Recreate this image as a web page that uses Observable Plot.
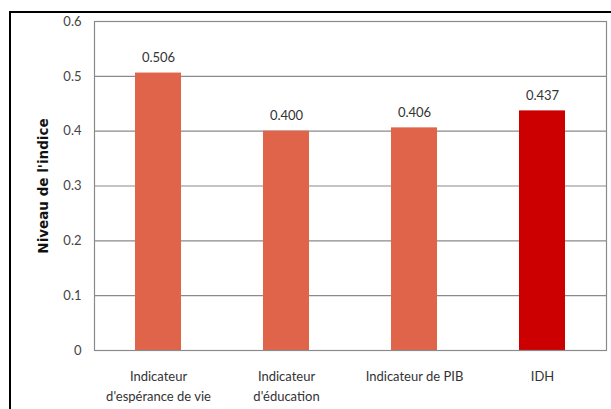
<!DOCTYPE html>
<html><head><meta charset="utf-8">
<script src="https://cdn.jsdelivr.net/npm/d3@7"></script>
<script src="https://cdn.jsdelivr.net/npm/@observablehq/plot@0.6"></script>
<style>
body{margin:0;background:#fff;}
#wrap{position:relative;width:611px;height:409px;overflow:hidden;}
#border{position:absolute;left:9px;top:11px;width:700px;height:500px;border:2px solid #000;}
#chart{position:absolute;left:0;top:0;}
</style></head>
<body><div id="wrap"><div id="border"></div><div id="chart"></div></div>
<script>
const categories = ["Indicateur\nd'espérance de vie", "Indicateur\nd'éducation", "Indicateur de PIB", "IDH"];
const values = [0.506, 0.400, 0.406, 0.437];
const valueLabels = ["0.506", "0.400", "0.406", "0.437"];
const yTicks = [0, 0.1, 0.2, 0.3, 0.4, 0.5, 0.6];
const yTickLabels = ["0", "0.1", "0.2", "0.3", "0.4", "0.5", "0.6"];
const yLabel = "Niveau de l'indice";
const colors = ["#E0644A", "#E0644A", "#E0644A", "#CC0000"];

const data = categories.map((c, i) => ({cat: c, value: values[i], label: valueLabels[i], color: colors[i]}));

const chart = Plot.plot({
  width: 611,
  height: 409,
  marginLeft: 94,
  marginRight: 5,
  marginTop: 21,
  marginBottom: 59,
  style: {fontFamily: "Lato, 'Open Sans', sans-serif", fontSize: "13px", color: "#333", background: "transparent"},
  x: {domain: categories, paddingInner: 0.64, paddingOuter: 0.32, label: null},
  y: {domain: [0, 0.6], label: null},
  marks: [
    Plot.gridY(yTicks, {stroke: "#8a8a8a", strokeOpacity: 1, strokeWidth: 1.2}),
    Plot.barY(data, {x: "cat", y: "value", fill: "color"}),
    Plot.frame({stroke: "#8a8a8a", strokeWidth: 1.2}),
    Plot.axisY({ticks: yTicks, tickSize: 0, tickPadding: 13, tickFormat: (d) => yTickLabels[yTicks.indexOf(d)], fontSize: 13, fill: "#444", label: null}),
    Plot.axisX({tickSize: 0, tickPadding: 16, lineHeight: 1.55, fontSize: 13, fill: "#333", label: null}),
    Plot.text(data, {x: "cat", y: "value", text: "label", dy: -15, fontSize: 13, fill: "#333"}),
    Plot.text([yLabel], {frameAnchor: "left", textAnchor: "middle", rotate: -90, dx: -51, fontFamily: "'DejaVu Sans', sans-serif", fontWeight: "bold", fontSize: 13.5, fill: "#111"})
  ]
});
document.getElementById("chart").appendChild(chart);
</script>
</body></html>
